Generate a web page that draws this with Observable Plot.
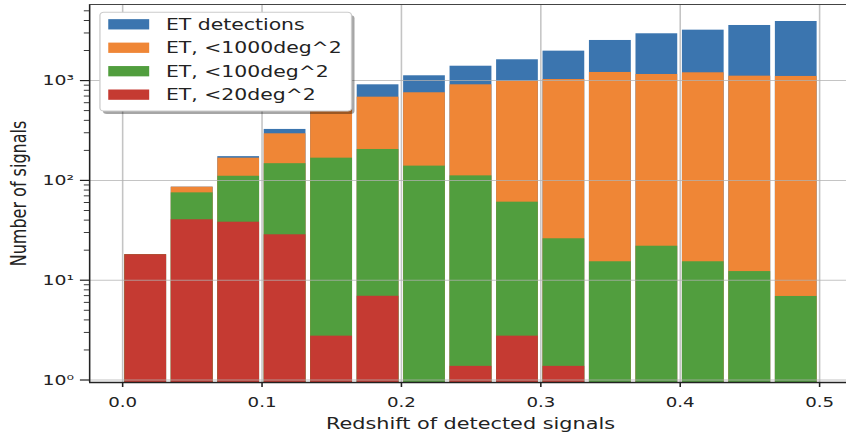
<!DOCTYPE html>
<html>
<head>
<meta charset="utf-8">
<script src="https://cdn.jsdelivr.net/npm/d3@7"></script>
<script src="https://cdn.jsdelivr.net/npm/@observablehq/plot@0.6"></script>
<style>
  html, body { margin: 0; padding: 0; background: #fff; }
  #chart svg { display: block; }
</style>
</head>
<body>
<div id="chart"></div>
<script>
// ---- data ----
const binEdges = [0.0000, 0.0333, 0.0667, 0.1000, 0.1333, 0.1667, 0.2000, 0.2333,
                  0.2667, 0.3000, 0.3333, 0.3667, 0.4000, 0.4333, 0.4667, 0.5000];
const seriesNames = ["ET detections", "ET, <1000deg^2", "ET, <100deg^2", "ET, <20deg^2"];
const seriesColors = ["#3b75af", "#ef8636", "#519e3e", "#c53a32"];
const etDetections = [18, 85.5, 173, 324, 580, 907, 1117, 1393, 1616, 1972, 2523, 2944, 3200, 3565, 3909];
const etLt1000     = [18, 85.5, 167, 293, 510, 682, 755, 907, 979, 1025, 1206, 1151, 1197, 1107, 1100];
const etLt100      = [18, 75, 110, 147, 167, 204, 139, 111, 60.5, 26, 15.3, 21.9, 15.3, 12.2, 6.87];
const etLt20       = [18, 40.3, 38.1, 28.5, 2.75, 6.9, 0, 1.37, 2.75, 1.37, 0, 0, 0, 0, 0];
const xTicks = [0, 0.1, 0.2, 0.3, 0.4, 0.5];
const xTickLabels = ["0.0", "0.1", "0.2", "0.3", "0.4", "0.5"];
const yTicks = [1, 10, 100, 1000];
const yTickLabels = ["10⁰", "10¹", "10²", "10³"];
const yMinorTicks = [2, 3, 4, 5, 6, 7, 8, 9, 20, 30, 40, 50, 60, 70, 80, 90,
                     200, 300, 400, 500, 600, 700, 800, 900, 2000, 3000, 4000, 5000];
const xLabel = "Redshift of detected signals";
const yLabel = "Number of signals";

// ---- layout (drawn in a narrower frame, then stretched horizontally like the reference) ----
const OUT_W = 846, OUT_H = 435;
const W = 651;                       // internal width
const xDomain = [-0.02367, 0.5194];
const yDomain = [0.944, 5785];
const ink = "#222";

const seriesValues = [etDetections, etLt1000, etLt100, etLt20];
const rows = [];
seriesValues.forEach((vals, s) => {
  vals.forEach((v, i) => {
    if (v > 0) rows.push({series: seriesNames[s], x1: binEdges[i], x2: binEdges[i + 1], y: v});
  });
});

const barMarks = seriesNames.map((name, s) =>
  Plot.rect(rows.filter(d => d.series === name), {
    x1: "x1", x2: "x2", y1: () => yDomain[0], y2: "y",
    fill: seriesColors[s], insetLeft: 1.8, insetRight: 1.8
  })
);

const svg = Plot.plot({
  width: W,
  height: OUT_H,
  marginLeft: 68.49,
  marginRight: 0,
  marginTop: 4,
  marginBottom: 53,
  style: {fontFamily: "DejaVu Sans", fontSize: "14px", color: ink, background: "#fff"},
  x: {domain: xDomain, label: null},
  y: {type: "log", domain: yDomain, label: null},
  marks: [
    ...barMarks,
    Plot.gridY(yTicks, {stroke: "#b0b0b0", strokeOpacity: 0.75, strokeWidth: 1}),
    Plot.gridX(xTicks, {stroke: "#b0b0b0", strokeOpacity: 0.75, strokeWidth: 1.2}),
    Plot.ruleX([xDomain[0]], {stroke: ink, strokeWidth: 1.2}),
    Plot.ruleY([yDomain[0]], {stroke: ink, strokeWidth: 1.5}),
    Plot.ruleY([yDomain[1]], {stroke: "#444", strokeWidth: 1.2}),
    Plot.axisX(xTicks, {tickSize: 5, tickPadding: 9.8, strokeWidth: 1.2, label: null,
      tickFormat: d => xTickLabels[xTicks.indexOf(d)], fontSize: 14}),
    Plot.axisY(yTicks, {tickSize: 7, tickPadding: 5, strokeWidth: 1.2, label: null,
      tickFormat: d => yTickLabels[yTicks.indexOf(d)], fontSize: 14.5}),
    Plot.axisY(yMinorTicks, {tickSize: 4, strokeWidth: 0.9, label: null, tickFormat: () => ""}),
    Plot.text([yLabel], {frameAnchor: "left", textAnchor: "middle", lineAnchor: "middle",
      rotate: -90, dx: -54, fontSize: 16, fill: ink}),
    Plot.text([xLabel], {frameAnchor: "bottom", textAnchor: "middle", lineAnchor: "middle",
      dx: 1.8, dy: 40.9, fontSize: 16, fill: ink})
  ]
});

// ---- legend (inside the axes, top-left, with shadow) ----
const lg = d3.select(svg).append("g")
  .attr("font-family", "DejaVu Sans").attr("font-size", 15.7).attr("fill", ink)
  .attr("text-anchor", "start");
const box = {x: 76.9, y: 12.3, w: 193.6, h: 98.7};
lg.append("rect").attr("x", box.x + 2.3).attr("y", box.y + 3).attr("width", box.w).attr("height", box.h)
  .attr("rx", 3).attr("fill", "#000").attr("fill-opacity", 0.35);
lg.append("rect").attr("x", box.x).attr("y", box.y).attr("width", box.w).attr("height", box.h)
  .attr("rx", 3).attr("fill", "#fff").attr("stroke", "#cccccc").attr("stroke-width", 1);
seriesNames.forEach((name, i) => {
  const cy = 24.3 + i * 23.45;
  lg.append("rect").attr("x", 83.3).attr("y", cy - 5.15).attr("width", 31.5).attr("height", 10.3)
    .attr("fill", seriesColors[i]);
  lg.append("text").attr("x", 127.7).attr("y", cy).attr("dy", "0.35em")
    .attr("text-anchor", "start").text(name);
});

// stretch horizontally to the output size
svg.setAttribute("width", OUT_W);
svg.setAttribute("height", OUT_H);
svg.setAttribute("viewBox", `0 0 ${W} ${OUT_H}`);
svg.setAttribute("preserveAspectRatio", "none");
svg.style.width = OUT_W + "px";
svg.style.height = OUT_H + "px";
svg.style.maxWidth = "none";

document.getElementById("chart").appendChild(svg);
</script>
</body>
</html>
